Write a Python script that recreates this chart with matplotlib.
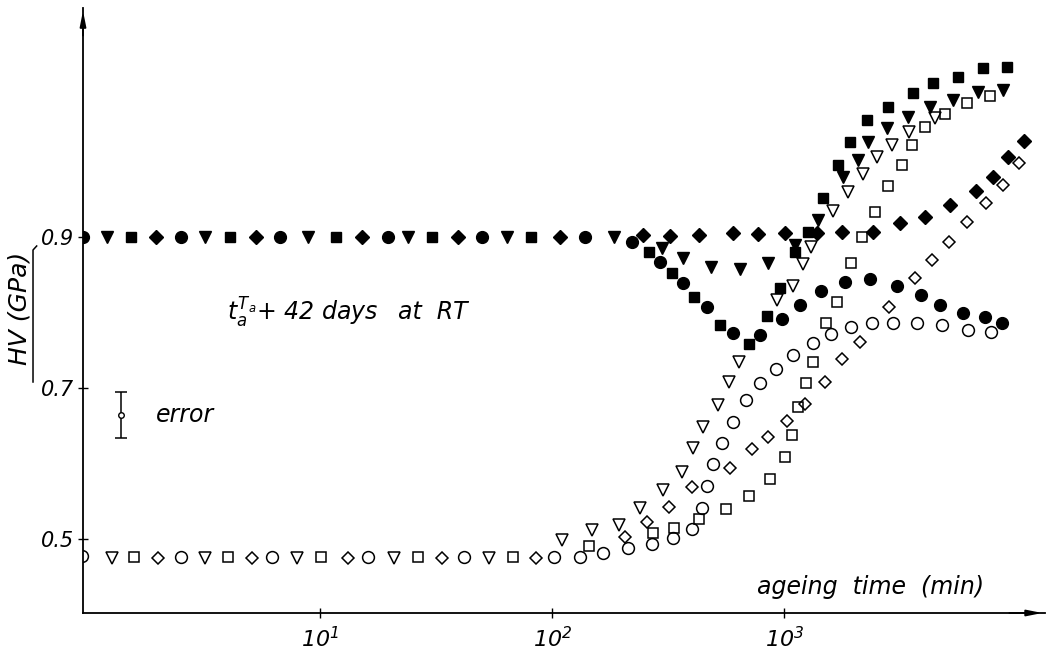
import numpy as np
import matplotlib
matplotlib.use("Agg")
import matplotlib.pyplot as plt
from matplotlib.lines import Line2D

plt.rcParams["font.family"] = ["DejaVu Sans"]
plt.rcParams["font.style"] = "italic"
plt.rcParams["mathtext.fontset"] = "dejavusans"

# ageing time (min) and HV (GPa)
# filled symbols: after ageing + 42 days at RT
fc_t = [0.95, 2.52, 6.7, 19.6, 50, 139, 221, 292, 367, 466, 603, 789, 980,
        1171, 1443, 1832, 2350, 3070, 3899, 4699, 5916, 7345, 8710]
fc_hv = [0.90, 0.90, 0.90, 0.90, 0.90, 0.90, 0.893, 0.867, 0.839, 0.807, 0.773,
         0.770, 0.791, 0.810, 0.828, 0.840, 0.844, 0.835, 0.823, 0.810, 0.799,
         0.794, 0.786]

fv_t = [1.21, 3.19, 8.9, 23.9, 64, 185, 298, 367, 485, 646, 853, 1115, 1402,
        1795, 2084, 2301, 2780, 3420, 4256, 5346, 6855, 8790]
fv_hv = [0.90, 0.90, 0.90, 0.90, 0.90, 0.90, 0.885, 0.872, 0.860, 0.858, 0.866,
         0.889, 0.923, 0.979, 1.002, 1.025, 1.044, 1.059, 1.072, 1.081, 1.092,
         1.095]

fs_t = [1.53, 4.1, 11.7, 30.4, 81, 262, 329, 409, 530, 706, 846, 962, 1115,
        1268, 1472, 1709, 1924, 2280, 2805, 3597, 4385, 5623, 7211, 9141]
fs_hv = [0.90, 0.90, 0.90, 0.90, 0.90, 0.880, 0.852, 0.821, 0.783, 0.758, 0.795,
         0.832, 0.880, 0.907, 0.952, 0.995, 1.026, 1.055, 1.072, 1.091, 1.104,
         1.112, 1.123, 1.125]

fd_t = [1.96, 5.3, 15.2, 39.4, 108, 247, 323, 430, 603, 773, 1010, 1387, 1778,
        2421, 3162, 4055, 5200, 6730, 7962, 9247, 10820]
fd_hv = [0.90, 0.90, 0.90, 0.90, 0.90, 0.903, 0.901, 0.903, 0.905, 0.904, 0.905,
         0.905, 0.907, 0.907, 0.919, 0.926, 0.942, 0.961, 0.979, 1.006, 1.027]

# open symbols: as aged
oc_t = [0.94, 2.52, 6.2, 16.1, 41.8, 102, 132, 166, 213, 270, 332, 401, 443,
        466, 494, 541, 603, 686, 789, 925, 1093, 1333, 1596, 1945, 2393, 2951,
        3741, 4797, 6211, 7798]
oc_hv = [0.478, 0.476, 0.476, 0.476, 0.476, 0.476, 0.476, 0.481, 0.488, 0.493,
         0.501, 0.513, 0.541, 0.570, 0.599, 0.627, 0.655, 0.684, 0.707, 0.725,
         0.744, 0.760, 0.772, 0.781, 0.786, 0.786, 0.786, 0.783, 0.777, 0.774]

ov_t = [1.27, 3.19, 7.96, 20.7, 53.5, 110, 149, 194, 239, 301, 363, 405, 448,
        520, 579, 640, 934, 1093, 1208, 1306, 1626, 1888, 2193, 2517, 2924,
        3459, 4477]
ov_hv = [0.475, 0.475, 0.475, 0.475, 0.475, 0.499, 0.512, 0.519, 0.541, 0.565,
         0.589, 0.621, 0.648, 0.678, 0.708, 0.734, 0.817, 0.835, 0.864, 0.887,
         0.934, 0.960, 0.983, 1.006, 1.021, 1.039, 1.058]

os_t = [1.58, 4.0, 10.1, 26.4, 67.9, 144, 272, 336, 430, 562, 706, 871, 1010,
        1082, 1148, 1245, 1333, 1518, 1692, 1945, 2168, 2466, 2805, 3228, 3565,
        4055, 4943, 6152, 7727]
os_hv = [0.476, 0.476, 0.476, 0.476, 0.476, 0.491, 0.508, 0.515, 0.527, 0.540,
         0.557, 0.579, 0.609, 0.638, 0.675, 0.707, 0.734, 0.786, 0.814, 0.866,
         0.900, 0.933, 0.968, 0.995, 1.021, 1.046, 1.063, 1.077, 1.087]

od_t = [2.0, 5.1, 13.2, 33.6, 85, 206, 257, 319, 401, 585, 728, 853, 1030,
        1233, 1503, 1778, 2128, 2836, 3673, 4345, 5140, 6152, 7430, 8790, 10300]
od_hv = [0.475, 0.475, 0.475, 0.475, 0.475, 0.503, 0.523, 0.542, 0.569, 0.594,
         0.619, 0.635, 0.656, 0.679, 0.708, 0.738, 0.761, 0.807, 0.846, 0.870,
         0.893, 0.920, 0.945, 0.969, 0.998]

# error bar shown in the legend area
err_t = 1.39
err_hv = 0.664
err_size = 0.03

fig = plt.figure(figsize=(10.48, 6.54), dpi=100)
ax = fig.add_axes([0.0792, 0.0627, 0.918, 0.925])

# filled series
ax.plot(fc_t, fc_hv, "o", ms=8.5, color="k", ls="none")
ax.plot(fv_t, fv_hv, "v", ms=9, color="k", ls="none")
ax.plot(fs_t, fs_hv, "s", ms=7.8, color="k", ls="none")
ax.plot(fd_t, fd_hv, "D", ms=6.8, color="k", ls="none")

# open series
ax.plot(oc_t, oc_hv, "o", ms=8.5, mfc="none", mec="k", mew=1.1, ls="none")
ax.plot(ov_t, ov_hv, "v", ms=8.5, mfc="none", mec="k", mew=1.1, ls="none")
ax.plot(os_t, os_hv, "s", ms=7.5, mfc="none", mec="k", mew=1.1, ls="none")
ax.plot(od_t, od_hv, "D", ms=6.5, mfc="none", mec="k", mew=1.1, ls="none")

ax.errorbar([err_t], [err_hv], yerr=[err_size], fmt="o", ms=4, mfc="white",
            mec="k", ecolor="k", elinewidth=1.1, capsize=4, capthick=1.1)

ax.set_xscale("log")
ax.set_xlim(0.95, 13300)
ax.set_ylim(0.402, 1.203)

for side in ["top", "right"]:
    ax.spines[side].set_visible(False)
for side in ["left", "bottom"]:
    ax.spines[side].set_linewidth(1.3)

ax.set_xticks([10, 100, 1000])
ax.set_xticklabels([r"$\mathit{10^{1}}$", r"$\mathit{10^{2}}$", r"$\mathit{10^{3}}$"])
ax.minorticks_off()
ax.set_yticks([0.5, 0.7, 0.9])
ax.set_yticklabels(["0.5", "0.7", "0.9"])
ax.tick_params(direction="inout", length=7, width=1, labelsize=15, pad=3)
ax.tick_params(axis="x", pad=6, labelsize=16)

# axis arrows
ax.annotate("", xy=(0, 1.0), xytext=(0, 0.95), xycoords="axes fraction",
            arrowprops=dict(arrowstyle="-|>,head_length=0.9,head_width=0.18",
                            color="k", lw=1.3))
ax.annotate("", xy=(1.0, 0), xytext=(0.96, 0), xycoords="axes fraction",
            arrowprops=dict(arrowstyle="-|>,head_length=0.9,head_width=0.18",
                            color="k", lw=1.3))

ax.text(3.97, 0.80, r"$t_a^{T_a}$+ 42 days", fontsize=17, va="center", ha="left")
ax.text(21.7, 0.80, "at  RT", fontsize=17, va="center", ha="left")
ax.text(1.95, 0.664, "error", fontsize=17, va="center", ha="left")
ax.text(766, 0.436, "ageing  time  (min)", fontsize=17, va="center", ha="left")

# y label, underlined as in the original
fig.text(0.019, 1 - 308 / 654, "HV (GPa)", rotation=90, fontsize=18,
         va="center", ha="center")
fig.add_artist(Line2D([0.0315, 0.0315, 0.035], [1 - 382 / 654, 1 - 250 / 654, 1 - 246 / 654],
                      color="k", lw=1.1, transform=fig.transFigure))

fig.savefig("out.png", dpi=100, facecolor="white")
